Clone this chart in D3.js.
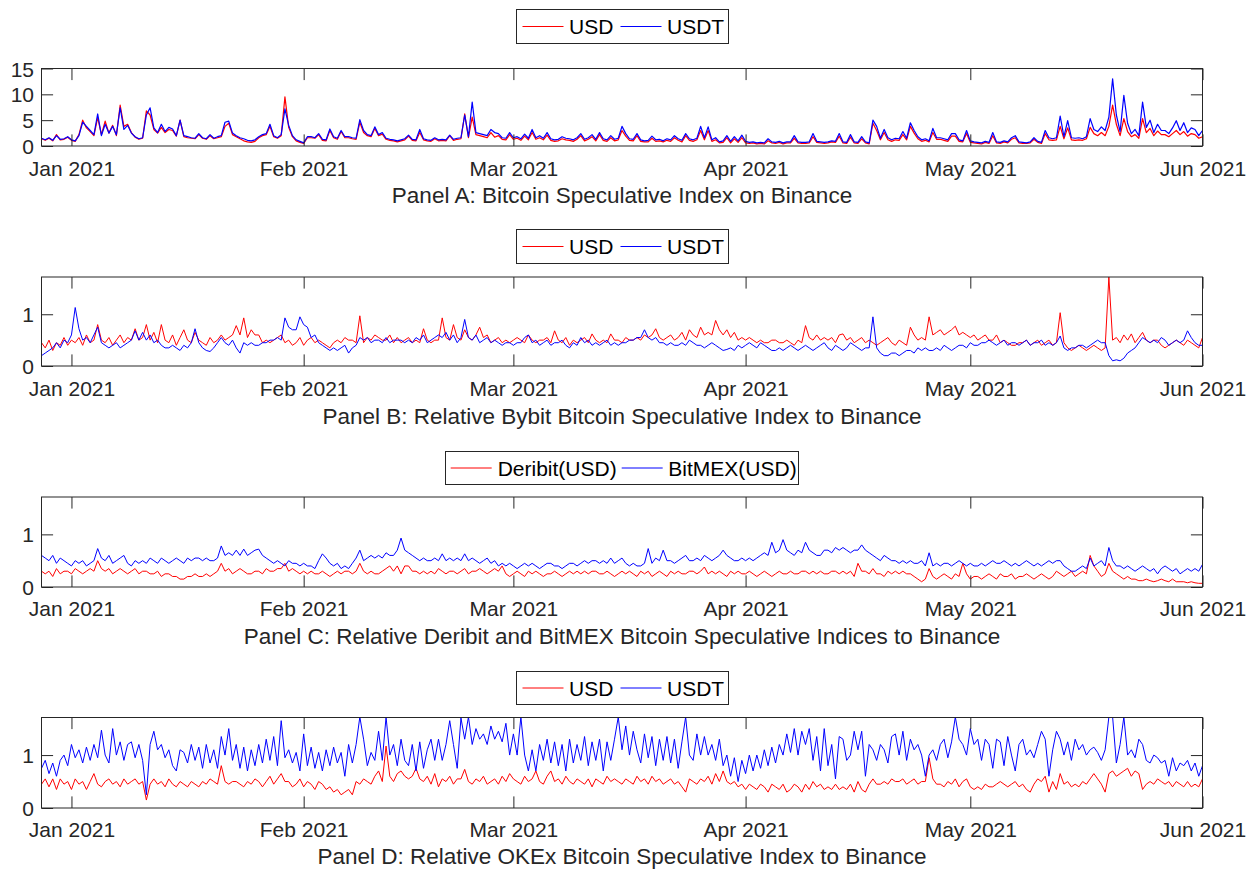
<!DOCTYPE html>
<html><head><meta charset="utf-8">
<script src="https://cdn.jsdelivr.net/npm/d3@7"></script>
<style>body{margin:0;background:#fff}</style>
</head><body>
<svg id="c" width="1250" height="869"></svg>
<script>
// ---------- data ----------
const startDate = "2020-12-28T00:00:00Z";
const endDate = "2021-06-01T00:00:00Z";
const xTickDates = ["2021-01-01","2021-02-01","2021-03-01","2021-04-01","2021-05-01","2021-06-01"];
const xTickLabels = ["Jan 2021","Feb 2021","Mar 2021","Apr 2021","May 2021","Jun 2021"];
const yTicksA = [0,5,10,15];
const yTicksRel = [0,1];
const yMaxA = 15, yMaxB = 1.72, yMaxC = 1.71, yMaxD = 1.71;

const legendA = ["USD","USDT"];
const legendB = ["USD","USDT"];
const legendC = ["Deribit(USD)","BitMEX(USD)"];
const legendD = ["USD","USDT"];
const titles = [
  "Panel A: Bitcoin Speculative Index on Binance",
  "Panel B: Relative Bybit Bitcoin Speculative Index to Binance",
  "Panel C: Relative Deribit and BitMEX Bitcoin Speculative Indices to Binance",
  "Panel D: Relative OKEx Bitcoin Speculative Index to Binance"
];

const aUSD = [
1.4,1.1,1.5,1.0,2.2,1.2,1.3,1.7,1.1,0.9,
2.2,5.0,3.5,2.8,2.0,5.5,2.2,4.8,2.5,4.0,
2.0,7.9,3.8,4.2,2.6,1.7,1.3,1.5,6.8,6.0,
3.2,2.5,3.6,2.6,3.2,3.0,1.9,5.0,1.8,1.6,
1.5,1.4,2.2,1.5,1.3,2.0,1.4,1.6,1.8,3.8,
4.4,2.2,1.8,1.4,1.0,0.8,0.7,0.9,1.6,2.0,
2.2,3.8,1.8,1.5,2.0,9.5,3.6,1.8,1.0,0.7,
0.5,1.6,1.6,1.5,2.2,1.1,1.0,3.0,1.6,1.3,
2.8,1.6,1.6,1.4,1.3,4.6,2.6,2.0,1.8,3.4,
2.0,2.3,1.3,1.1,1.0,0.8,1.0,1.2,1.9,1.1,
1.0,2.6,1.2,1.0,0.9,1.4,1.0,1.1,1.0,2.0,
1.1,1.3,1.4,6.2,1.6,5.6,2.2,2.0,1.8,1.6,
2.6,1.7,2.0,1.3,1.2,2.2,1.3,1.5,1.1,1.9,
1.2,2.6,1.3,1.6,1.2,2.1,1.1,0.9,1.0,1.4,
1.2,1.1,0.9,1.3,2.0,1.0,1.3,1.8,1.0,2.2,
1.1,0.9,1.6,1.0,1.2,3.0,1.9,1.1,1.0,2.0,
0.9,0.8,0.8,1.5,0.9,1.0,0.8,1.1,0.9,1.6,
1.1,0.8,2.0,1.1,0.9,1.2,3.0,1.2,3.0,0.9,
1.2,0.6,0.7,1.6,0.6,1.4,0.7,1.6,0.6,0.5,
0.6,0.4,0.5,0.4,1.0,0.6,0.5,0.7,0.4,0.6,
0.6,1.5,0.6,0.5,0.5,0.6,1.8,0.7,0.6,0.5,
0.6,0.8,0.7,1.9,0.6,0.5,1.7,0.6,0.5,1.4,
0.6,0.4,4.4,3.0,1.2,2.6,1.2,0.9,1.2,1.1,
2.2,1.2,3.8,2.5,1.4,0.9,1.1,0.8,2.6,1.3,
1.3,1.1,0.9,1.9,1.9,0.9,0.8,2.4,0.7,0.6,
0.5,0.4,0.7,0.5,2.0,0.6,0.5,0.8,0.6,1.3,
1.6,0.6,0.5,0.5,0.6,1.3,0.7,0.5,2.4,1.2,
1.1,1.2,3.8,1.4,3.5,1.2,1.1,1.2,1.1,1.4,
3.6,2.4,2.0,2.6,2.0,3.8,7.9,4.2,2.0,5.3,
2.8,1.8,2.2,1.5,5.3,2.6,3.4,2.0,2.9,2.2,
2.2,1.8,2.4,3.0,2.2,2.8,1.9,2.4,2.2,1.5,
1.8];

const aUSDT = [
1.5,1.2,1.6,1.1,2.0,1.3,1.4,1.8,1.2,1.0,
2.0,4.6,3.8,3.0,2.2,6.2,2.0,4.2,2.5,3.8,
2.2,7.4,3.2,4.0,2.5,1.8,1.4,1.6,6.0,7.4,
3.5,2.6,4.2,2.8,3.6,3.3,2.0,5.0,2.0,1.8,
1.6,1.5,2.4,1.6,1.4,2.2,1.5,1.8,2.0,4.6,
4.8,2.5,2.0,1.6,1.4,1.1,1.0,1.2,1.8,2.2,
2.4,4.2,2.0,1.6,2.2,7.2,4.0,2.0,1.2,0.9,
0.6,1.8,1.8,1.6,2.4,1.3,1.2,3.3,1.8,1.5,
3.0,1.8,1.8,1.6,1.5,5.1,3.0,2.2,2.0,3.7,
2.2,2.6,1.5,1.3,1.2,1.0,1.2,1.4,2.1,1.3,
1.2,3.2,1.4,1.2,1.1,1.6,1.2,1.3,1.2,2.1,
1.3,1.5,1.6,6.0,1.8,8.5,2.6,2.4,2.2,2.0,
3.2,2.6,2.4,1.6,1.5,2.6,1.6,1.8,1.4,2.3,
1.5,3.2,1.6,2.0,1.5,2.6,1.4,1.2,1.3,1.8,
1.5,1.4,1.2,1.6,2.4,1.3,1.6,2.2,1.3,2.6,
1.4,1.2,2.0,1.3,1.5,3.8,2.4,1.4,1.3,2.4,
1.2,1.0,1.1,1.9,1.2,1.3,1.0,1.4,1.2,2.0,
1.4,1.1,2.4,1.4,1.2,1.5,3.8,1.6,3.7,1.2,
1.6,0.8,1.0,2.0,0.9,1.8,1.0,2.1,0.9,0.7,
0.8,0.6,0.7,0.6,1.4,0.8,0.7,0.9,0.6,0.8,
0.8,2.0,0.8,0.7,0.7,0.8,2.4,0.9,0.8,0.7,
0.8,1.0,0.9,2.4,0.8,0.7,2.2,0.8,0.7,1.8,
0.8,0.6,5.0,3.8,1.5,3.2,1.6,1.2,1.5,1.4,
2.8,1.5,4.5,3.0,1.8,1.2,1.4,1.0,3.4,1.6,
1.6,1.4,1.2,2.4,2.4,1.2,1.0,3.0,1.0,0.8,
0.7,0.6,0.9,0.7,2.6,0.8,0.7,1.0,0.8,1.6,
2.0,0.8,0.7,0.6,0.8,1.6,0.9,0.7,3.0,1.6,
1.4,1.6,5.8,1.8,4.9,1.6,1.5,1.6,1.4,1.8,
5.3,3.2,2.8,3.7,3.0,5.6,13.0,6.0,2.8,9.8,
4.4,2.4,3.2,2.0,8.5,3.6,5.0,2.6,4.2,3.0,
3.0,2.4,3.5,4.9,3.0,4.5,2.6,3.5,3.2,2.0,
3.0];

const bUSD = [
0.45,0.35,0.5,0.3,0.45,0.4,0.55,0.4,0.5,0.45,
0.55,0.4,0.6,0.45,0.5,0.8,0.5,0.45,0.55,0.4,
0.5,0.6,0.45,0.55,0.5,0.72,0.5,0.55,0.8,0.5,
0.65,0.45,0.8,0.5,0.45,0.6,0.4,0.55,0.7,0.5,
0.45,0.65,0.5,0.45,0.4,0.55,0.45,0.5,0.6,0.5,
0.55,0.6,0.78,0.6,0.93,0.55,0.7,0.6,0.6,0.45,
0.5,0.45,0.5,0.55,0.6,0.45,0.5,0.4,0.45,0.55,
0.4,0.5,0.55,0.45,0.5,0.45,0.4,0.35,0.45,0.5,
0.45,0.55,0.5,0.5,0.45,0.97,0.45,0.55,0.5,0.6,
0.55,0.5,0.5,0.6,0.45,0.55,0.45,0.5,0.55,0.45,
0.5,0.45,0.72,0.5,0.45,0.5,0.5,0.93,0.55,0.5,
0.8,0.55,0.5,0.7,0.55,0.5,0.6,0.75,0.55,0.6,
0.45,0.5,0.55,0.45,0.5,0.45,0.5,0.55,0.5,0.45,
0.6,0.5,0.45,0.5,0.5,0.55,0.45,0.68,0.5,0.45,
0.55,0.4,0.5,0.45,0.5,0.55,0.45,0.62,0.5,0.45,
0.5,0.45,0.62,0.5,0.5,0.45,0.55,0.5,0.5,0.55,
0.5,0.6,0.55,0.6,0.72,0.55,0.5,0.55,0.6,0.5,
0.55,0.65,0.5,0.7,0.6,0.55,0.75,0.6,0.65,0.6,
0.88,0.7,0.6,0.7,0.55,0.65,0.5,0.55,0.5,0.55,
0.5,0.45,0.5,0.45,0.45,0.5,0.5,0.45,0.45,0.5,
0.45,0.4,0.5,0.45,0.78,0.55,0.5,0.6,0.5,0.55,
0.5,0.55,0.45,0.6,0.62,0.5,0.55,0.45,0.5,0.55,
0.45,0.5,0.45,0.4,0.45,0.5,0.55,0.45,0.4,0.5,
0.45,0.4,0.75,0.6,0.5,0.55,0.5,0.95,0.6,0.65,
0.7,0.6,0.65,0.7,0.77,0.6,0.65,0.6,0.55,0.6,
0.5,0.55,0.6,0.5,0.5,0.6,0.45,0.5,0.45,0.4,
0.4,0.45,0.45,0.5,0.4,0.45,0.5,0.4,0.45,0.5,
0.4,0.45,1.03,0.45,0.35,0.3,0.35,0.4,0.35,0.3,
0.35,0.4,0.35,0.3,0.35,1.72,0.5,0.55,0.45,0.6,
0.5,0.62,0.45,0.55,0.65,0.5,0.45,0.5,0.5,0.4,
0.35,0.4,0.45,0.5,0.45,0.4,0.5,0.45,0.4,0.35,
0.55];

const bUSDT = [
0.2,0.25,0.3,0.35,0.45,0.35,0.5,0.45,0.6,1.13,
0.72,0.5,0.55,0.45,0.6,0.75,0.45,0.4,0.35,0.4,
0.45,0.35,0.4,0.45,0.5,0.68,0.5,0.65,0.5,0.6,
0.45,0.5,0.4,0.35,0.35,0.4,0.35,0.3,0.4,0.35,
0.45,0.72,0.45,0.35,0.3,0.28,0.35,0.45,0.55,0.45,
0.4,0.5,0.35,0.25,0.45,0.4,0.45,0.4,0.4,0.45,
0.45,0.5,0.5,0.55,0.5,0.93,0.75,0.7,0.7,0.95,
0.8,0.75,0.55,0.6,0.45,0.4,0.35,0.3,0.35,0.3,
0.35,0.4,0.25,0.35,0.4,0.55,0.5,0.55,0.45,0.5,
0.5,0.45,0.55,0.45,0.5,0.5,0.5,0.45,0.5,0.45,
0.55,0.5,0.6,0.45,0.5,0.55,0.6,0.55,0.65,0.5,
0.6,0.45,0.55,0.9,0.55,0.5,0.6,0.45,0.5,0.55,
0.45,0.5,0.45,0.4,0.45,0.45,0.4,0.45,0.45,0.55,
0.6,0.45,0.5,0.4,0.45,0.5,0.4,0.45,0.45,0.5,
0.4,0.35,0.45,0.4,0.55,0.45,0.5,0.4,0.45,0.4,
0.45,0.5,0.4,0.45,0.4,0.45,0.45,0.5,0.5,0.55,
0.55,0.7,0.55,0.5,0.55,0.45,0.45,0.4,0.45,0.4,
0.4,0.45,0.4,0.5,0.45,0.4,0.4,0.35,0.4,0.45,
0.4,0.35,0.3,0.32,0.35,0.3,0.4,0.35,0.4,0.45,
0.4,0.35,0.45,0.4,0.35,0.3,0.3,0.35,0.3,0.35,
0.4,0.35,0.3,0.35,0.4,0.35,0.3,0.35,0.4,0.45,
0.35,0.3,0.4,0.35,0.3,0.35,0.45,0.4,0.35,0.3,
0.35,0.35,0.95,0.35,0.25,0.2,0.2,0.25,0.25,0.2,
0.25,0.3,0.3,0.25,0.35,0.3,0.35,0.3,0.3,0.35,
0.3,0.4,0.35,0.3,0.35,0.4,0.4,0.35,0.45,0.4,
0.4,0.45,0.45,0.5,0.45,0.4,0.45,0.5,0.4,0.45,
0.45,0.4,0.45,0.5,0.4,0.45,0.45,0.5,0.4,0.45,
0.4,0.45,0.58,0.35,0.3,0.35,0.35,0.4,0.4,0.35,
0.4,0.45,0.5,0.45,0.45,0.2,0.1,0.12,0.1,0.15,
0.25,0.3,0.35,0.45,0.55,0.5,0.45,0.5,0.45,0.55,
0.5,0.4,0.45,0.5,0.45,0.5,0.68,0.55,0.45,0.4,
0.4];

const cDeribit = [
0.3,0.25,0.3,0.2,0.35,0.25,0.3,0.3,0.25,0.35,
0.3,0.25,0.3,0.35,0.3,0.5,0.35,0.3,0.35,0.25,
0.3,0.35,0.3,0.25,0.3,0.35,0.25,0.3,0.3,0.25,
0.25,0.3,0.2,0.25,0.25,0.2,0.2,0.15,0.15,0.2,
0.2,0.25,0.2,0.2,0.25,0.2,0.25,0.3,0.45,0.3,
0.35,0.25,0.3,0.35,0.3,0.25,0.25,0.3,0.3,0.25,
0.35,0.3,0.3,0.35,0.35,0.45,0.3,0.35,0.3,0.25,
0.3,0.25,0.3,0.25,0.25,0.3,0.25,0.2,0.25,0.3,
0.25,0.3,0.3,0.25,0.3,0.45,0.3,0.25,0.3,0.25,
0.25,0.3,0.35,0.4,0.3,0.4,0.25,0.4,0.4,0.3,
0.3,0.25,0.3,0.25,0.3,0.25,0.35,0.3,0.25,0.3,
0.3,0.25,0.3,0.35,0.25,0.3,0.3,0.35,0.3,0.25,
0.3,0.35,0.3,0.4,0.25,0.2,0.25,0.3,0.25,0.2,
0.3,0.25,0.3,0.25,0.2,0.25,0.25,0.3,0.25,0.2,
0.25,0.3,0.25,0.3,0.25,0.3,0.25,0.3,0.3,0.25,
0.25,0.3,0.25,0.2,0.25,0.3,0.25,0.3,0.25,0.2,
0.3,0.25,0.3,0.2,0.25,0.3,0.25,0.2,0.3,0.25,
0.3,0.25,0.25,0.3,0.3,0.25,0.3,0.38,0.25,0.3,
0.25,0.3,0.25,0.2,0.3,0.25,0.3,0.25,0.25,0.3,
0.25,0.2,0.25,0.3,0.25,0.2,0.25,0.3,0.25,0.25,
0.3,0.25,0.25,0.3,0.3,0.25,0.3,0.25,0.3,0.25,
0.25,0.3,0.3,0.25,0.3,0.25,0.3,0.2,0.45,0.3,
0.3,0.25,0.35,0.25,0.25,0.2,0.3,0.25,0.3,0.25,
0.3,0.25,0.25,0.2,0.15,0.1,0.15,0.35,0.2,0.15,
0.2,0.25,0.2,0.15,0.25,0.2,0.45,0.25,0.15,0.2,
0.2,0.15,0.2,0.25,0.2,0.15,0.25,0.2,0.2,0.25,
0.15,0.2,0.2,0.25,0.2,0.15,0.2,0.25,0.2,0.15,
0.2,0.3,0.25,0.2,0.25,0.3,0.2,0.25,0.3,0.25,
0.6,0.4,0.3,0.2,0.25,0.45,0.3,0.25,0.2,0.15,
0.2,0.15,0.15,0.12,0.12,0.15,0.12,0.1,0.12,0.15,
0.12,0.1,0.15,0.1,0.1,0.1,0.08,0.1,0.08,0.07,
0.07];

const cBitMEX = [
0.6,0.55,0.5,0.6,0.45,0.55,0.5,0.45,0.4,0.5,
0.45,0.5,0.4,0.45,0.5,0.73,0.55,0.5,0.6,0.45,
0.5,0.55,0.6,0.45,0.4,0.5,0.45,0.5,0.45,0.55,
0.5,0.45,0.55,0.5,0.45,0.5,0.55,0.5,0.45,0.55,
0.5,0.55,0.55,0.5,0.55,0.5,0.5,0.55,0.78,0.6,
0.65,0.6,0.7,0.6,0.72,0.6,0.65,0.7,0.72,0.6,
0.55,0.5,0.45,0.5,0.45,0.4,0.5,0.45,0.45,0.4,
0.45,0.4,0.4,0.35,0.5,0.63,0.55,0.45,0.4,0.45,
0.35,0.4,0.35,0.45,0.55,0.7,0.5,0.55,0.6,0.55,
0.6,0.55,0.65,0.6,0.6,0.7,0.93,0.7,0.65,0.6,
0.55,0.5,0.55,0.5,0.5,0.55,0.5,0.63,0.5,0.55,
0.5,0.55,0.5,0.63,0.5,0.55,0.5,0.45,0.5,0.55,
0.45,0.5,0.4,0.45,0.4,0.45,0.4,0.35,0.4,0.45,
0.4,0.45,0.4,0.35,0.4,0.45,0.45,0.4,0.4,0.35,
0.4,0.45,0.45,0.4,0.45,0.5,0.45,0.5,0.5,0.45,
0.5,0.45,0.55,0.45,0.5,0.55,0.45,0.4,0.45,0.4,
0.4,0.45,0.73,0.45,0.55,0.5,0.7,0.5,0.5,0.45,
0.5,0.55,0.6,0.5,0.5,0.55,0.5,0.6,0.55,0.5,
0.55,0.6,0.7,0.6,0.55,0.5,0.5,0.55,0.5,0.55,
0.5,0.55,0.6,0.65,0.6,0.85,0.65,0.7,0.9,0.7,
0.65,0.6,0.7,0.65,0.85,0.7,0.65,0.6,0.6,0.7,
0.7,0.65,0.75,0.7,0.75,0.7,0.65,0.7,0.7,0.8,
0.7,0.65,0.6,0.55,0.5,0.6,0.55,0.5,0.5,0.45,
0.5,0.45,0.5,0.45,0.45,0.5,0.4,0.65,0.4,0.45,
0.4,0.45,0.45,0.4,0.45,0.5,0.45,0.4,0.45,0.4,
0.4,0.45,0.4,0.45,0.5,0.45,0.45,0.5,0.45,0.4,
0.45,0.4,0.45,0.5,0.45,0.4,0.45,0.4,0.45,0.5,
0.45,0.5,0.5,0.4,0.35,0.3,0.3,0.35,0.4,0.35,
0.55,0.4,0.45,0.5,0.4,0.75,0.5,0.4,0.4,0.35,
0.4,0.35,0.3,0.35,0.4,0.35,0.3,0.35,0.25,0.35,
0.4,0.35,0.3,0.35,0.25,0.3,0.35,0.3,0.35,0.3,
0.43];

const dUSD = [
0.45,0.55,0.4,0.55,0.35,0.55,0.45,0.5,0.35,0.55,
0.45,0.5,0.35,0.5,0.65,0.45,0.4,0.5,0.55,0.45,
0.5,0.4,0.55,0.45,0.5,0.55,0.45,0.5,0.15,0.45,
0.55,0.45,0.5,0.4,0.55,0.45,0.4,0.5,0.45,0.4,
0.5,0.45,0.4,0.5,0.45,0.55,0.5,0.45,0.8,0.5,
0.45,0.5,0.5,0.45,0.4,0.5,0.45,0.55,0.5,0.4,
0.5,0.6,0.45,0.55,0.65,0.5,0.5,0.4,0.45,0.55,
0.4,0.5,0.45,0.35,0.5,0.45,0.35,0.4,0.3,0.35,
0.25,0.3,0.35,0.25,0.5,0.45,0.55,0.5,0.45,0.6,
0.7,0.5,1.17,0.6,0.5,0.65,0.7,0.6,0.55,0.6,
0.75,0.55,0.5,0.6,0.45,0.65,0.4,0.55,0.5,0.6,
0.45,0.55,0.55,0.73,0.5,0.45,0.55,0.5,0.6,0.45,
0.5,0.55,0.45,0.6,0.5,0.65,0.55,0.5,0.45,0.6,
0.5,0.55,0.7,0.5,0.45,0.6,0.7,0.5,0.55,0.45,
0.6,0.5,0.45,0.55,0.5,0.45,0.55,0.4,0.55,0.5,
0.45,0.6,0.5,0.55,0.5,0.45,0.55,0.5,0.45,0.6,
0.5,0.55,0.45,0.6,0.5,0.55,0.45,0.5,0.55,0.45,
0.5,0.4,0.3,0.55,0.5,0.45,0.55,0.5,0.6,0.45,
0.65,0.5,0.7,0.5,0.45,0.5,0.4,0.45,0.35,0.45,
0.4,0.35,0.45,0.4,0.3,0.45,0.4,0.35,0.45,0.3,
0.35,0.45,0.4,0.3,0.45,0.35,0.5,0.4,0.45,0.35,
0.4,0.35,0.45,0.35,0.4,0.35,0.45,0.3,0.5,0.35,
0.3,0.45,0.55,0.45,0.45,0.5,0.45,0.55,0.5,0.5,
0.55,0.45,0.5,0.55,0.45,0.5,0.5,0.95,0.55,0.45,
0.45,0.4,0.5,0.45,0.55,0.4,0.5,0.55,0.4,0.35,
0.4,0.35,0.45,0.4,0.4,0.45,0.5,0.45,0.4,0.45,
0.5,0.4,0.45,0.35,0.3,0.45,0.55,0.5,0.6,0.3,
0.5,0.35,0.65,0.45,0.5,0.4,0.45,0.4,0.5,0.45,
0.55,0.65,0.55,0.45,0.3,0.65,0.7,0.6,0.65,0.7,
0.75,0.6,0.7,0.65,0.35,0.45,0.5,0.45,0.55,0.5,
0.45,0.5,0.4,0.5,0.45,0.4,0.5,0.4,0.45,0.4,
0.55];

const dUSDT = [
0.75,0.9,0.65,0.85,0.6,0.9,1.0,0.8,1.2,0.95,
1.1,0.85,1.15,0.9,1.2,0.95,1.47,1.0,0.85,1.5,
1.0,1.25,0.9,1.2,1.25,0.95,1.2,0.9,0.25,1.2,
1.45,1.1,1.2,0.95,1.1,0.8,0.7,1.1,1.05,0.85,
1.2,0.9,1.15,0.75,1.2,0.85,1.1,0.75,1.35,1.0,
1.5,0.9,1.2,0.75,1.15,0.7,1.1,0.8,1.2,0.85,
1.3,0.9,1.35,0.8,1.65,0.95,1.1,0.85,1.05,0.7,
1.4,0.8,1.15,0.75,1.05,0.7,1.1,0.8,1.15,0.85,
1.05,0.6,1.2,0.85,1.2,1.72,1.3,0.8,1.05,0.9,
1.45,0.9,1.72,1.0,1.2,0.8,1.3,0.9,0.8,1.2,
0.7,1.25,0.75,1.1,1.3,0.9,1.3,0.9,1.2,1.65,
1.2,0.75,1.7,1.3,1.72,1.2,1.5,1.3,1.4,1.2,
1.55,1.3,1.45,1.25,1.6,1.0,1.4,1.0,1.72,1.0,
0.7,1.1,0.7,1.2,0.9,1.3,0.85,1.25,0.8,1.2,
0.7,1.3,0.85,1.2,0.9,1.35,0.8,1.25,0.9,1.3,
0.7,1.25,0.9,1.3,1.72,1.1,1.55,1.0,1.45,1.1,
0.85,1.4,0.95,1.35,0.8,1.3,0.9,1.35,0.85,1.3,
0.75,1.25,1.72,1.0,0.9,1.4,1.0,1.35,1.0,1.2,
0.9,1.3,0.8,1.0,0.6,0.95,0.5,0.9,0.65,1.0,
0.7,1.0,0.75,1.1,0.8,1.15,0.85,1.2,1.0,1.4,
1.05,1.5,1.0,1.45,1.2,1.5,0.9,1.35,0.7,1.5,
0.8,1.2,0.55,1.35,1.3,0.9,1.0,1.45,1.1,1.45,
0.6,1.2,1.1,0.9,1.2,1.1,0.85,1.35,1.4,1.0,
1.45,0.9,1.3,1.1,1.2,1.0,0.6,1.0,1.1,0.9,
1.2,1.3,0.95,1.25,1.72,1.3,1.2,1.0,1.5,1.2,
1.3,0.9,1.3,1.2,0.75,1.3,1.25,0.8,1.35,1.0,
0.7,1.2,1.3,1.0,1.1,0.95,1.2,1.45,1.3,0.6,
1.1,1.45,1.3,1.0,1.25,0.9,1.3,1.1,1.2,1.0,
1.1,1.15,1.05,0.9,1.1,1.72,1.72,0.85,1.2,1.72,
1.0,1.1,0.95,1.3,1.2,0.9,0.85,1.0,0.95,0.85,
0.9,0.6,0.95,0.7,0.85,0.8,0.9,0.7,0.85,0.6,
0.8];

// ---------- layout ----------
const RED = "#ff0000", BLUE = "#0000ff", AX = "#262626";
const FONT = "'Liberation Sans', Arial, Helvetica, sans-serif";
const X0 = 41.5, X1 = 1202.5, TICK = 11.6;

const panels = [
  {top:68.5, bottom:146, ymax:yMaxA, yticks:yTicksA, lw:1.2, names:legendA, series:[aUSD,aUSDT],
   leg:{x:516.5,y:9.5,w:212,h:34, items:[[522.5,569],[620.5,667]]}, labY:175.7, titleY:203.3},
  {top:277, bottom:366, ymax:yMaxB, yticks:yTicksRel, lw:1, names:legendB, series:[bUSD,bUSDT],
   leg:{x:516.5,y:229.5,w:212,h:34, items:[[522.5,569],[620.5,667]]}, labY:395.7, titleY:424},
  {top:497, bottom:587, ymax:yMaxC, yticks:yTicksRel, lw:1, names:legendC, series:[cDeribit,cBitMEX],
   leg:{x:445.5,y:451.5,w:353,h:33, items:[[450.7,497.7],[621.7,668.3]]}, labY:615.7, titleY:644},
  {top:717.5, bottom:808, ymax:yMaxD, yticks:yTicksRel, lw:1, names:legendD, series:[dUSD,dUSDT],
   leg:{x:516.5,y:671.5,w:212,h:33, items:[[522.5,569],[620.5,667]]}, labY:837, titleY:864}
];
const colors = [RED, BLUE];

const svg = d3.select("#c").style("font-family", FONT);
const t0 = Date.parse(startDate), t1 = Date.parse(endDate);
const x = d3.scaleUtc().domain([new Date(t0), new Date(t1)]).range([X0, X1]);
const tickDates = xTickDates.map(s => new Date(s + "T00:00:00Z"));

panels.forEach((p, k) => {
  const y = d3.scaleLinear().domain([0, p.ymax]).range([p.bottom, p.top]);
  const g = svg.append("g");
  g.append("clipPath").attr("id", "clip" + k).append("rect")
    .attr("x", X0).attr("y", p.top).attr("width", X1 - X0).attr("height", p.bottom - p.top);

  p.series.forEach((vals, si) => {
    const n = vals.length;
    const line = d3.line()
      .x((d, i) => x(new Date(t0 + (t1 - t0) * i / (n - 1))))
      .y(d => y(d));
    g.append("path").attr("d", line(vals)).attr("fill", "none")
      .attr("stroke", colors[si]).attr("stroke-width", p.lw)
      .attr("stroke-linejoin", "round")
      .attr("clip-path", `url(#clip${k})`);
  });

  const fmt = (d, i) => xTickLabels[i];
  const ab = g.append("g").attr("transform", `translate(0,${p.bottom})`)
    .call(d3.axisBottom(x).tickValues(tickDates).tickFormat(fmt).tickSizeInner(-TICK).tickSizeOuter(0).tickPadding(p.labY - p.bottom - 14.9));
  const at = g.append("g").attr("transform", `translate(0,${p.top})`)
    .call(d3.axisTop(x).tickValues(tickDates).tickFormat("").tickSizeInner(-TICK).tickSizeOuter(0));
  const al = g.append("g").attr("transform", `translate(${X0},0)`)
    .call(d3.axisLeft(y).tickValues(p.yticks).tickFormat(d3.format("d")).tickSizeInner(-TICK).tickSizeOuter(0).tickPadding(7.5));
  const ar = g.append("g").attr("transform", `translate(${X1},0)`)
    .call(d3.axisRight(y).tickValues(p.yticks).tickFormat("").tickSizeInner(-TICK).tickSizeOuter(0));
  [ab, at, al, ar].forEach(a => {
    a.attr("color", AX).attr("font-family", FONT).attr("font-size", 21);
    a.select(".domain").remove();
    a.selectAll("line").attr("stroke-width", 1);
  });
  al.selectAll("text").attr("dy", "0.36em");
  ab.selectAll("text").attr("fill", AX);

  g.append("rect").attr("x", X0).attr("y", p.top).attr("width", X1 - X0).attr("height", p.bottom - p.top)
    .attr("fill", "none").attr("stroke", AX).attr("stroke-width", 1);

  g.append("text").attr("x", 622).attr("y", p.titleY).attr("text-anchor", "middle")
    .attr("font-size", 22.5).attr("fill", AX).text(titles[k]);

  const L = p.leg, cy = L.y + L.h / 2;
  const lg = g.append("g");
  lg.append("rect").attr("x", L.x).attr("y", L.y).attr("width", L.w).attr("height", L.h)
    .attr("fill", "#fff").attr("stroke", AX).attr("stroke-width", 1);
  L.items.forEach((it, i) => {
    lg.append("line").attr("x1", it[0]).attr("x2", it[0] + 41).attr("y1", cy).attr("y2", cy)
      .attr("stroke", colors[i]).attr("stroke-width", 1);
    lg.append("text").attr("x", it[1]).attr("y", cy).attr("dy", "0.36em")
      .attr("font-size", 21).attr("fill", "#000").text(p.names[i]);
  });
});
</script>
</body></html>
